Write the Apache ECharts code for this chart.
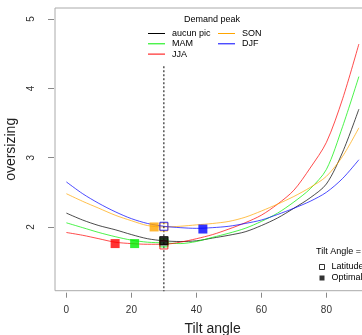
<!DOCTYPE html>
<html>
<head>
<meta charset="utf-8">
<script src="https://cdn.jsdelivr.net/npm/echarts@6/dist/echarts.min.js"></script>
<style>html,body{margin:0;padding:0;background:#fff}#c{width:362px;height:335px}</style>
</head>
<body>
<div id="c"></div>
<script>
const tilt = [0,5,10,15,20,25,30,35,40,45,50,55,60,65,70,75,80,85,90];
const aucunPic = [2.20,2.10,2.02,1.96,1.89,1.83,1.80,1.79,1.80,1.84,1.88,1.93,2.02,2.13,2.27,2.42,2.62,3.08,3.70];
const mam      = [2.06,1.99,1.92,1.86,1.81,1.78,1.77,1.76,1.79,1.85,1.91,1.98,2.08,2.20,2.36,2.55,2.83,3.45,4.17];
const jja      = [1.92,1.88,1.83,1.78,1.76,1.75,1.75,1.78,1.83,1.89,1.97,2.06,2.17,2.33,2.53,2.85,3.22,3.85,4.64];
const son      = [2.48,2.37,2.27,2.17,2.09,2.02,2.00,2.01,2.03,2.05,2.08,2.14,2.23,2.33,2.44,2.57,2.73,3.02,3.43];
const djf      = [2.65,2.48,2.34,2.22,2.12,2.05,2.01,1.99,1.98,1.99,2.01,2.05,2.10,2.18,2.27,2.37,2.50,2.70,2.97];
const seriesNames = ['aucun pic','MAM','JJA','SON','DJF'];
const seriesColors = ['#000000','#00ee00','#ff0000','#ffa500','#0000ff'];
const seriesValues = [aucunPic, mam, jja, son, djf];
// Optimal tilt per demand peak: [tilt, oversizing]
const optimalPts = [[30,1.80],[21,1.76],[15,1.76],[27,2.00],[42,1.97]];
// Latitude tilt per demand peak
const latitude = 30;
const latitudePts = [[30,1.80],[30,1.77],[30,1.74],[30,2.00],[30,2.01]];
const dottedTop = 4.34;
const xTicks = [0,20,40,60,80];
const yTicks = [2,3,4,5];

const chart = echarts.init(document.getElementById('c'), null, {renderer:'canvas'});
const series = [];
seriesNames.forEach((n,i)=>{
  series.push({
    name:n, type:'line', symbol:'none', smooth:0.3,
    data: tilt.map((t,j)=>[t, seriesValues[i][j]]),
    lineStyle:{color:seriesColors[i], width:1, opacity:0.7},
    itemStyle:{color:seriesColors[i]},
    z:2
  });
});
series.push({
  name:'lat', type:'line', symbol:'none',
  data:[[latitude,1.0],[latitude,dottedTop]],
  lineStyle:{color:'#000', width:1, type:[2,2]}, z:3, silent:true
});
series.push({
  name:'Latitude', type:'scatter', symbol:'rect', symbolSize:8,
  data: latitudePts.map((p,i)=>({value:p, itemStyle:{color:'rgba(255,255,255,0)', borderColor:seriesColors[i], borderWidth:1}})),
  z:4
});
series.push({
  name:'Optimal', type:'scatter', symbol:'rect', symbolSize:9,
  data: optimalPts.map((p,i)=>({value:p, itemStyle:{color:seriesColors[i]}})),
  z:5
});

const lineLegendBase = {
  orient:'vertical', padding:0, itemWidth:17, itemHeight:1, icon:'rect', itemGap:0.3,
  textStyle:{fontSize:9, lineHeight:10, color:'#000', fontFamily:'Liberation Sans, Arial', padding:[0,0,0,2]}
};
chart.setOption({
  animation:false,
  backgroundColor:'#fff',
  grid:{left:55, top:8, width:315.25, height:282.7, show:true, borderColor:'#aaa', borderWidth:1, backgroundColor:'transparent', containLabel:false, outerBoundsMode:'none'},
  xAxis:{
    type:'value', min:-3.5, max:93.5, offset:2,
    axisLine:{show:false, onZero:false}, splitLine:{show:false},
    axisTick:{show:true, length:5, lineStyle:{color:'#888'}, customValues:xTicks},
    axisLabel:{color:'#333', fontSize:10, margin:13, fontFamily:'Liberation Sans, Arial', customValues:xTicks},
    name:'Tilt angle', nameLocation:'middle', nameGap:29,
    nameTextStyle:{fontSize:14, color:'#222', fontFamily:'Liberation Sans, Arial'}
  },
  yAxis:{
    type:'value', min:1.08, max:5.16, offset:1,
    axisLine:{show:false, onZero:false}, splitLine:{show:false},
    axisTick:{show:true, length:6, lineStyle:{color:'#888'}, customValues:yTicks},
    axisLabel:{color:'#333', fontSize:10, rotate:90, margin:18, fontFamily:'Liberation Sans, Arial', customValues:yTicks},
    name:'oversizing', nameLocation:'middle', nameGap:36,
    nameTextStyle:{fontSize:14, color:'#222', fontFamily:'Liberation Sans, Arial'}
  },
  legend:[
    Object.assign({}, lineLegendBase, {left:148, top:28.5, data:['aucun pic','MAM','JJA']}),
    Object.assign({}, lineLegendBase, {left:218, top:28.5, data:['SON','DJF']}),
    {orient:'vertical', padding:0, left:319, top:262, itemWidth:5, itemHeight:5, itemGap:1, icon:'rect',
     textStyle:{fontSize:9, lineHeight:10, color:'#000', fontFamily:'Liberation Sans, Arial', padding:[0,0,0,2]},
     data:[
      {name:'Latitude', itemStyle:{color:'#fff', borderColor:'#000', borderWidth:1}},
      {name:'Optimal', itemStyle:{color:'#000'}}
     ]}
  ],
  graphic:[
    {type:'text', left:184, top:15, style:{text:'Demand peak', fontSize:9, fill:'#000', fontFamily:'Liberation Sans, Arial'}},
    {type:'text', left:316, top:247, style:{text:'Tilt Angle =', fontSize:9, fill:'#000', fontFamily:'Liberation Sans, Arial'}}
  ],
  series: series
});
</script>
</body>
</html>
